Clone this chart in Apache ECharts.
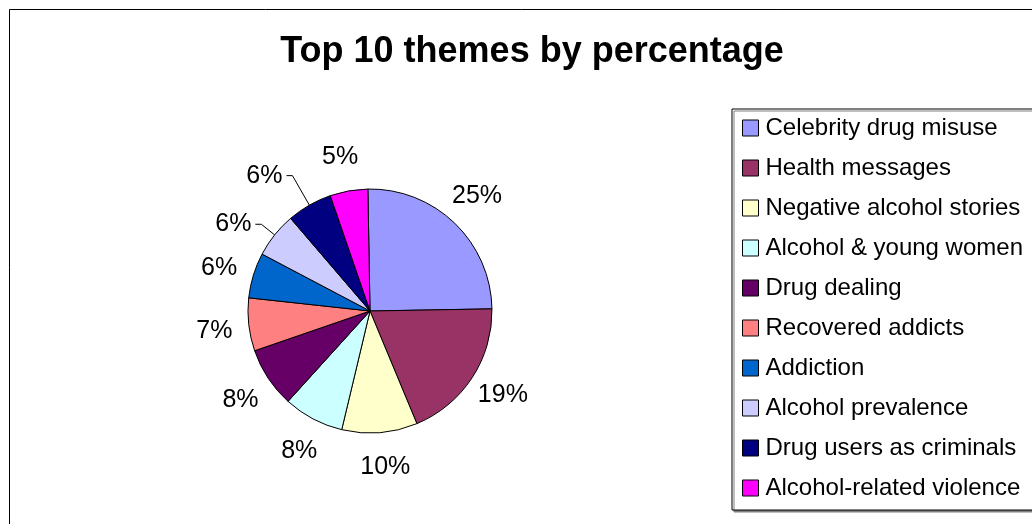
<!DOCTYPE html>
<html>
<head>
<meta charset="utf-8">
<script src="https://cdn.jsdelivr.net/npm/echarts@6/dist/echarts.min.js"></script>
<style>
html,body{margin:0;padding:0;background:#fff;}
#chart{width:1032px;height:524px;}
</style>
</head>
<body>
<div id="chart"></div>
<script>
const titleText = 'Top 10 themes by percentage';
const categories = [
  'Celebrity drug misuse',
  'Health messages',
  'Negative alcohol stories',
  'Alcohol & young women',
  'Drug dealing',
  'Recovered addicts',
  'Addiction',
  'Alcohol prevalence',
  'Drug users as criminals',
  'Alcohol-related violence'
];
const values = [25, 19, 10, 8, 8, 7, 6, 6, 6, 5];
const colors = ['#9999FF','#993366','#FFFFCC','#CCFFFF','#660066','#FF8080','#0066CC','#CCCCFF','#000080','#FF00FF'];
// labels that Excel pulled away from the pie and joined with a leader line
const leaderLabelLength = {'Alcohol prevalence': 17, 'Drug users as criminals': 34};

const FONT = '"Liberation Sans", Arial, sans-serif';
const LABEL_SIZE = 25;
const chart = echarts.init(document.getElementById('chart'), null, {renderer: 'canvas'});

const hasLeader = name => Object.prototype.hasOwnProperty.call(leaderLabelLength, name);

// visible pie: only the leader-line labels are drawn here
const pieData = categories.map((name, i) => ({
  name: name,
  value: values[i],
  itemStyle: {color: colors[i]},
  label: {show: hasLeader(name)},
  labelLine: hasLeader(name) ? {show: true, length: leaderLabelLength[name], length2: 6} : {show: false}
}));

// transparent ring that carries the other labels centred on a circle around the pie
const labelRingData = categories.map((name, i) => ({
  name: name,
  value: values[i],
  label: {show: !hasLeader(name)}
}));

chart.setOption({
  animation: false,
  backgroundColor: '#fff',
  title: {
    text: titleText,
    left: 527,
    textAlign: 'center',
    top: 29,
    textStyle: {fontFamily: FONT, fontSize: 36, fontWeight: 'bold', color: '#000'}
  },
  graphic: [{
    type: 'rect',
    shape: {x: 9.5, y: 9.5, width: 1040, height: 540},
    style: {fill: 'none', stroke: '#000', lineWidth: 1},
    silent: true,
    z: -1
  }],
  legend: {
    orient: 'vertical',
    left: 732,
    top: 109,
    padding: [7, 10, 10, 10],
    itemGap: 16,
    itemWidth: 16,
    itemHeight: 16,
    icon: 'rect',
    borderColor: '#000',
    borderWidth: 1,
    backgroundColor: '#fff',
    shadowColor: '#808080',
    shadowOffsetX: 2,
    shadowOffsetY: 2,
    itemStyle: {borderColor: '#000', borderWidth: 1},
    textStyle: {fontFamily: FONT, fontSize: 24, lineHeight: 24, color: '#000', padding: [0, 0, 0, 2]},
    data: categories.map((name, i) => ({name: name, itemStyle: {color: colors[i], borderColor: '#000', borderWidth: 1}}))
  },
  series: [{
    type: 'pie',
    center: [370, 311],
    radius: 122,
    startAngle: 91,
    clockwise: true,
    avoidLabelOverlap: false,
    itemStyle: {borderColor: '#000', borderWidth: 1},
    label: {
      position: 'outside',
      formatter: '{c}%',
      fontFamily: FONT,
      fontSize: LABEL_SIZE,
      color: '#000',
      distanceToLabelLine: 4
    },
    labelLine: {
      lineStyle: {color: '#000', width: 1}
    },
    emphasis: {disabled: true},
    data: pieData
  }, {
    type: 'pie',
    center: [370, 311],
    radius: [147, 161],
    startAngle: 92,
    clockwise: true,
    silent: true,
    avoidLabelOverlap: false,
    itemStyle: {color: 'rgba(0,0,0,0)', borderWidth: 0},
    label: {
      position: 'inside',
      formatter: '{c}%',
      fontFamily: FONT,
      fontSize: LABEL_SIZE,
      color: '#000',
      textBorderWidth: 0
    },
    labelLine: {show: false},
    emphasis: {disabled: true},
    data: labelRingData
  }]
});
</script>
</body>
</html>
